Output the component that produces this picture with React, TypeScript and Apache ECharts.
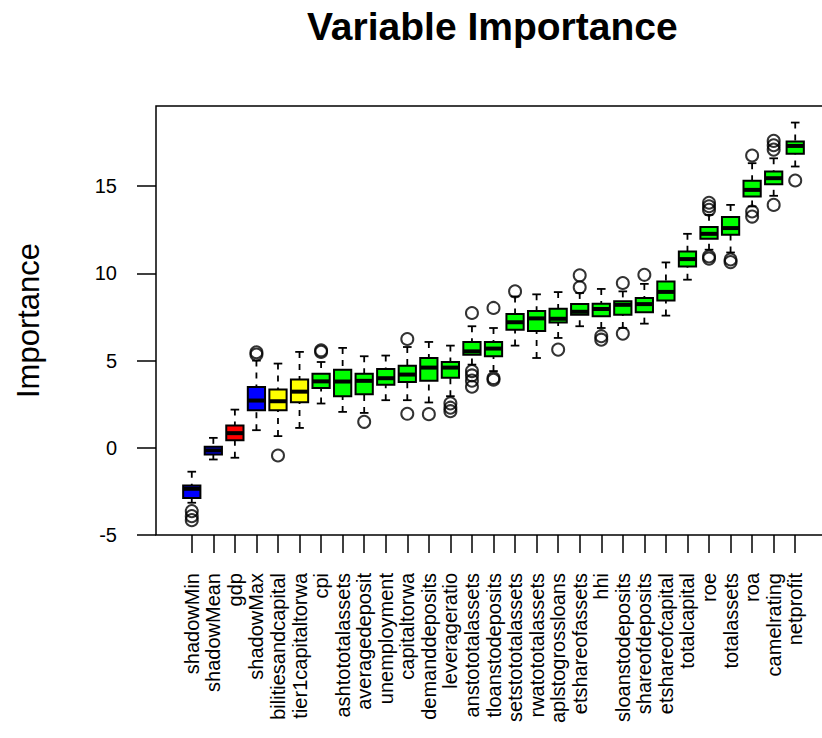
import React, { useEffect, useRef } from "react";
import * as echarts from "echarts";

const names = [
  "shadowMin", "shadowMean", "gdp", "shadowMax", "bilitiesandcapital", "tier1capitaltorwa", "cpi",
  "ashtototalassets", "averagedeposit", "unemployment", "capitaltorwa", "demanddeposits", "leverageratio",
  "anstototalassets", "tloanstodeposits", "setstototalassets", "rwatototalassets", "aplstogrossloans",
  "etshareofassets", "hhi", "sloanstodeposits", "shareofdeposits", "etshareofcapital", "totalcapital",
  "roe", "totalassets", "roa", "camelrating", "netprofit",
];

// 0 = shadow (blue), 1 = rejected (red), 2 = tentative (yellow), 3 = confirmed (green)
const decision = [0, 0, 1, 0, 2, 2, 3, 3, 3, 3, 3, 3, 3, 3, 3, 3, 3, 3, 3, 3, 3, 3, 3, 3, 3, 3, 3, 3, 3];

const lowWhisker = [-3.15, -0.67, -0.57, 1.01, 0.67, 1.14, 2.54, 2.06, 2.0, 2.73, 2.73, 2.6, 2.96, 4.77, 4.4, 5.86, 5.15, 6.3, 6.97, 6.87, 6.87, 7.12, 7.58, 9.64, 11.36, 11.2, 13.84, 14.45, 16.13];
const q1 = [-2.88, -0.38, 0.44, 2.15, 2.15, 2.61, 3.43, 2.96, 3.07, 3.62, 3.78, 3.85, 4.01, 5.33, 5.25, 6.77, 6.7, 7.19, 7.63, 7.54, 7.63, 7.77, 8.45, 10.4, 11.99, 12.22, 14.41, 15.12, 16.86];
const median = [-2.35, -0.15, 0.84, 2.71, 2.67, 3.22, 3.81, 3.8, 3.84, 3.99, 4.2, 4.6, 4.6, 5.53, 5.69, 7.2, 7.42, 7.4, 7.8, 7.96, 8.2, 8.24, 8.94, 10.82, 12.27, 12.6, 14.79, 15.46, 17.31];
const q3 = [-2.16, 0.06, 1.28, 3.49, 3.34, 3.91, 4.25, 4.48, 4.25, 4.52, 4.71, 5.15, 4.92, 6.07, 6.07, 7.67, 7.85, 7.97, 8.25, 8.26, 8.4, 8.59, 9.54, 11.26, 12.66, 13.23, 15.31, 15.84, 17.56];
const highWhisker = [-1.37, 0.57, 2.19, 5.0, 4.83, 5.5, 4.92, 5.73, 5.25, 5.29, 5.78, 6.07, 5.86, 6.97, 6.87, 8.68, 8.8, 8.93, 8.88, 9.11, 8.97, 9.4, 10.63, 12.27, 13.36, 13.93, 16.32, 16.6, 18.65];
const outliers = [
  [-3.63, -3.92, -4.15], [], [], [5.48, 5.35], [-0.44], [], [5.59, 5.5], [], [1.49], [],
  [6.24, 1.95], [1.93], [2.55, 2.3, 2.1], [7.73, 4.4, 4.15, 3.85, 3.5], [8.02, 4.0, 3.9],
  [8.97], [], [5.63], [9.89, 9.2], [6.4, 6.2], [9.45, 6.55], [9.92], [], [],
  [14.05, 13.85, 13.65, 10.97, 10.85], [10.8, 10.65], [16.76, 13.55, 13.26], [17.6, 17.35, 17.1, 13.93], [15.33],
];

const yTicks = [-5, 0, 5, 10, 15];
const fillColors = ["#0000FF", "#FF0000", "#FFFF00", "#00FF00"];

const FONT = "'Liberation Sans', Arial, sans-serif";

export default function App() {
  const ref = useRef<HTMLDivElement>(null);
  useEffect(() => {
    if (!ref.current) return;
    const chart = echarts.init(ref.current, null, { renderer: "svg" });
    const positions = names.map((_, i) => i + 1);
    const boxData = names.map((_, i) => [i + 1, lowWhisker[i], q1[i], median[i], q3[i], highWhisker[i], decision[i]]);
    const outlierData: number[][] = [];
    outliers.forEach((arr, i) => arr.forEach((v) => outlierData.push([i + 1, v])));

    const renderItem = (params: any, api: any) => {
      const x = api.value(0);
      const lo = api.coord([x, api.value(1)]);
      const b1 = api.coord([x, api.value(2)]);
      const md = api.coord([x, api.value(3)]);
      const b3 = api.coord([x, api.value(4)]);
      const hi = api.coord([x, api.value(5)]);
      const cx = lo[0];
      const bw = api.size([0.8, 0])[0];
      const half = bw / 2;
      const st = bw / 4;
      const fill = fillColors[api.value(6)];
      const lineStyle = { stroke: "#000", lineWidth: 1.8 };
      return {
        type: "group",
        children: [
          { type: "line", shape: { x1: cx, y1: hi[1], x2: cx, y2: b3[1] }, style: { ...lineStyle, lineDash: [6, 6] } },
          { type: "line", shape: { x1: cx, y1: lo[1], x2: cx, y2: b1[1] }, style: { ...lineStyle, lineDash: [6, 6] } },
          { type: "line", shape: { x1: cx - st, y1: hi[1], x2: cx + st, y2: hi[1] }, style: lineStyle },
          { type: "line", shape: { x1: cx - st, y1: lo[1], x2: cx + st, y2: lo[1] }, style: lineStyle },
          {
            type: "rect",
            shape: { x: cx - half, y: b3[1], width: bw, height: b1[1] - b3[1] },
            style: { fill, stroke: "#000", lineWidth: 2 },
          },
          { type: "line", shape: { x1: cx - half, y1: md[1], x2: cx + half, y2: md[1] }, style: { stroke: "#000", lineWidth: 4 } },
        ],
      };
    };

    chart.setOption({
      animation: false,
      backgroundColor: "#fff",
      title: {
        text: "Variable Importance",
        left: 307,
        top: 7,
        padding: 0,
        textStyle: { fontSize: 39, fontWeight: "bold", color: "#000", fontFamily: FONT },
      },
      grid: {
        left: 156,
        top: 106,
        width: 675,
        height: 429,
        show: true,
        borderColor: "#000",
        borderWidth: 1.5,
        backgroundColor: "transparent",
      },
      xAxis: {
        type: "value",
        position: "bottom",
        min: -0.66,
        max: 30.66,
        axisLine: { show: false, onZero: false },
        splitLine: { show: false },
        axisTick: { show: true, inside: false, customValues: positions, length: 18, lineStyle: { color: "#000", width: 1.5 } },
        axisLabel: {
          show: true,
          customValues: positions,
          formatter: (v: number) => names[Math.round(v) - 1] ?? "",
          rotate: 90,
          margin: 38,
          fontSize: 20,
          color: "#000",
          fontFamily: FONT,
        },
      },
      yAxis: {
        type: "value",
        min: -5,
        max: 19.6,
        name: "Importance",
        nameLocation: "middle",
        nameRotate: 90,
        nameGap: 112,
        nameTextStyle: { fontSize: 31, color: "#000", fontFamily: FONT },
        axisLine: { show: false, onZero: false },
        splitLine: { show: false },
        axisTick: { show: true, inside: false, customValues: yTicks, length: 19, lineStyle: { color: "#000", width: 1.5 } },
        axisLabel: { show: true, customValues: yTicks, margin: 39, fontSize: 20, color: "#000", fontFamily: FONT },
      },
      series: [
        {
          type: "custom",
          renderItem,
          data: boxData,
          encode: { x: 0, y: [1, 2, 3, 4, 5] },
          z: 2,
        },
        {
          type: "scatter",
          data: outlierData,
          symbol: "circle",
          symbolSize: 12,
          itemStyle: { color: "transparent", borderColor: "#000", borderWidth: 2 },
          z: 3,
        },
      ],
    });
    return () => chart.dispose();
  }, []);

  return (
    <div style={{ position: "fixed", left: 0, top: 0, width: 822, height: 738, overflow: "hidden", background: "#fff" }}>
      <div ref={ref} style={{ width: 840, height: 738 }} />
    </div>
  );
}
